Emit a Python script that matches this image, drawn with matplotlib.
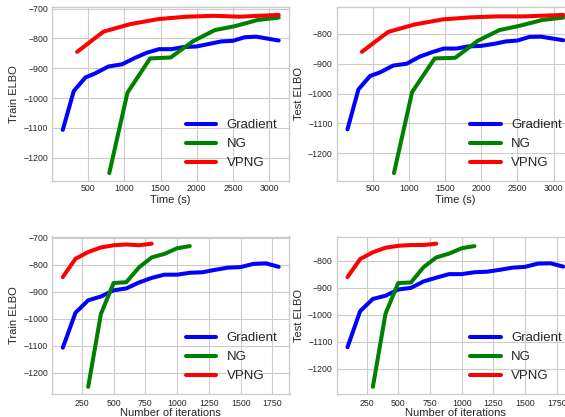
import matplotlib
matplotlib.use("Agg")
import matplotlib.pyplot as plt
from matplotlib.ticker import MultipleLocator

# iterations at which each method was evaluated
grad_iter = [100, 200, 300, 400, 500, 600, 700, 800, 900, 1000,
             1100, 1200, 1300, 1400, 1500, 1600, 1700, 1800]
ng_iter = [300, 400, 500, 600, 700, 800, 900, 1000, 1100]
vpng_iter = [100, 200, 300, 400, 500, 600, 700, 800]

# wall-clock time (s) at the same evaluation points
grad_time = [151, 302, 463, 600, 783, 967, 1150, 1310, 1480, 1654,
             1813, 1997, 2180, 2340, 2500, 2661, 2821, 3132]
ng_time = [793, 1044, 1356, 1640, 1951, 2250, 2523, 2843, 3132]
vpng_time = [349, 714, 1081, 1470, 1860, 2225, 2592, 3132]

# ELBO values
grad_train = [-1107, -977, -931, -917, -894, -887, -865, -848, -836, -836,
              -829, -827, -818, -810, -808, -796, -794, -807]
ng_train = [-1252, -982, -867, -864, -809, -772, -759, -738, -730]
vpng_train = [-845, -777, -752, -735, -727, -724, -727, -721]

grad_test = [-1120, -986, -941, -929, -906, -900, -876, -862, -849, -849,
             -842, -840, -833, -825, -822, -810, -809, -821]
ng_test = [-1267, -995, -882, -880, -823, -787, -773, -753, -745]
vpng_test = [-860, -793, -768, -751, -744, -741, -741, -736]

plt.style.use("seaborn-v0_8-whitegrid")
plt.rcParams["font.family"] = ["Liberation Sans", "DejaVu Sans"]

fig = plt.figure(figsize=(5.65, 4.17), dpi=100)

# axes boxes in pixels: (left, top, right, bottom); right column runs past the edge
W, H = 565, 417
boxes = {
    "tl": (52, 7, 289.5, 181),
    "tr": (336.7, 7, 574, 181),
    "bl": (52, 236.5, 289.5, 394),
    "br": (336.7, 236.5, 574, 394),
}


def make_ax(key):
    l, t, r, b = boxes[key]
    return fig.add_axes([l / W, (H - b) / H, (r - l) / W, (b - t) / H])


panels = [
    ("tl", grad_time, ng_time, vpng_time, grad_train, ng_train, vpng_train,
     "Time (s)", "Train ELBO", 500),
    ("tr", grad_time, ng_time, vpng_time, grad_test, ng_test, vpng_test,
     "Time (s)", "Test ELBO", 500),
    ("bl", grad_iter, ng_iter, vpng_iter, grad_train, ng_train, vpng_train,
     "Number of iterations", "Train ELBO", 250),
    ("br", grad_iter, ng_iter, vpng_iter, grad_test, ng_test, vpng_test,
     "Number of iterations", "Test ELBO", 250),
]

for key, gx, nx, vx, gy, ny, vy, xlabel, ylabel, xstep in panels:
    top_row = key.startswith("t")
    ax = make_ax(key)
    ax.plot(gx, gy, color="blue", linewidth=2.9, label="Gradient")
    ax.plot(nx, ny, color="green", linewidth=2.9, label="NG")
    ax.plot(vx, vy, color="red", linewidth=2.9, label="VPNG")
    ax.xaxis.set_major_locator(MultipleLocator(xstep))
    ax.yaxis.set_major_locator(MultipleLocator(100))
    ax.tick_params(axis="x", labelsize=6.3, colors="0.15",
                   pad=2.2 if top_row else 3.5)
    ax.tick_params(axis="y", labelsize=6.3, colors="0.15", pad=2.8)
    ax.set_xlabel(xlabel, fontsize=8, color="0.15",
                  labelpad=1.5 if top_row else 0.3)
    ax.set_ylabel(ylabel, fontsize=8, color="0.15", labelpad=3)
    ax.legend(loc="lower right", fontsize=9.5, handlelength=2.3,
              handletextpad=0.8, labelspacing=0.5, frameon=False)

fig.savefig("out.png", dpi=100)
